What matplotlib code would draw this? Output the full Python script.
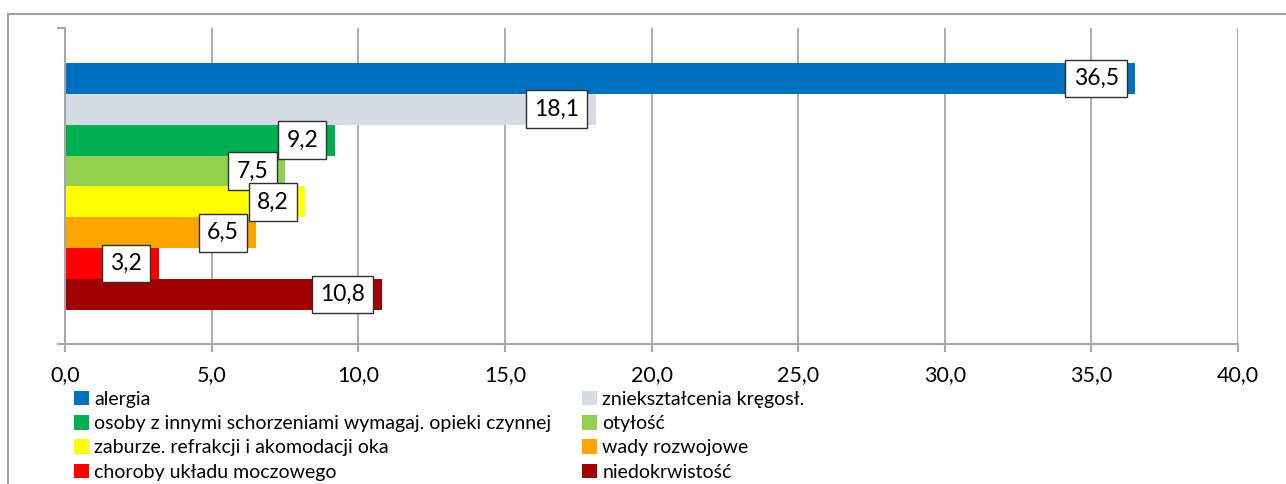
import matplotlib
matplotlib.use("Agg")
import matplotlib.pyplot as plt
from matplotlib.patches import Patch
from matplotlib.lines import Line2D

categories = ["alergia", "zniekształcenia kręgosł.",
              "osoby z innymi schorzeniami wymagaj. opieki czynnej", "otyłość",
              "zaburze. refrakcji i akomodacji oka", "wady rozwojowe",
              "choroby układu moczowego", "niedokrwistość"]
values = [36.5, 18.1, 9.2, 7.5, 8.2, 6.5, 3.2, 10.8]
value_labels = ["36,5", "18,1", "9,2", "7,5", "8,2", "6,5", "3,2", "10,8"]
colors = ["#0070C0", "#D6DCE5", "#00B050", "#92D050", "#FFFF00", "#FFA500", "#FF0000", "#A20000"]
xticks = [0, 5, 10, 15, 20, 25, 30, 35, 40]
xtick_labels = ["0,0", "5,0", "10,0", "15,0", "20,0", "25,0", "30,0", "35,0", "40,0"]

plt.rcParams['font.family'] = ['Lato', 'DejaVu Sans']
fig = plt.figure(figsize=(12.86, 4.84), dpi=100)
W, H = 1286, 484
ax = fig.add_axes([65 / W, 1 - 344 / H, (1238 - 65) / W, (344 - 28) / H])

grid_c = "#A6A6A6"
ypos = list(range(len(values)))
ax.barh(ypos, values, height=1.0, color=colors, zorder=3)
ylo, yhi = 8.6, -1.63
ax.set_ylim(ylo, yhi)
ax.set_xlim(0, 40)

ax.set_xticks(xticks)
ax.set_xticklabels(xtick_labels, fontsize=15.5)
ax.set_yticks([ylo, yhi])
ax.set_yticklabels(["", ""])
ax.tick_params(axis='x', length=6, width=1.5, color=grid_c, pad=9)
ax.tick_params(axis='y', length=6, width=1.5, color=grid_c)
ax.grid(axis='x', color=grid_c, linewidth=1.3, zorder=0)
for s in ["top", "right"]:
    ax.spines[s].set_visible(False)
for s in ["left", "bottom"]:
    ax.spines[s].set_color(grid_c)
    ax.spines[s].set_linewidth(1.5)
ax.spines["left"].set_zorder(4)

for y, v, lab in zip(ypos, values, value_labels):
    ax.annotate(lab, xy=(v, y), xytext=(-12, 0), textcoords='offset points',
                ha='right', va='center', fontsize=16.5, zorder=5,
                bbox=dict(boxstyle='square,pad=0.36', fc='white', ec='#303030', lw=1.0))

# legend: two columns, row-major order
handles = [Patch(facecolor=c, edgecolor='none') for c in colors]
col1 = [0, 2, 4, 6]
col2 = [1, 3, 5, 7]
leg_kw = dict(frameon=False, fontsize=14, handlelength=0.75, handleheight=0.75,
              handletextpad=0.3, labelspacing=0.37, borderpad=0, borderaxespad=0,
              loc='upper left')
l1 = fig.legend([handles[i] for i in col1], [categories[i] for i in col1],
                bbox_to_anchor=(74 / W, 1 - 391 / H), **leg_kw)
l2 = fig.legend([handles[i] for i in col2], [categories[i] for i in col2],
                bbox_to_anchor=(582 / W, 1 - 391 / H), **leg_kw)

# outer chart frame (left and top edges visible)
fig.add_artist(Line2D([7.5 / W, 7.5 / W], [0, 1 - 13.5 / H], transform=fig.transFigure,
                      color="#A0A0A0", lw=1.5))
fig.add_artist(Line2D([7.5 / W, 1], [1 - 13.5 / H, 1 - 13.5 / H], transform=fig.transFigure,
                      color="#A0A0A0", lw=1.5))

fig.savefig("out.png", dpi=100)
